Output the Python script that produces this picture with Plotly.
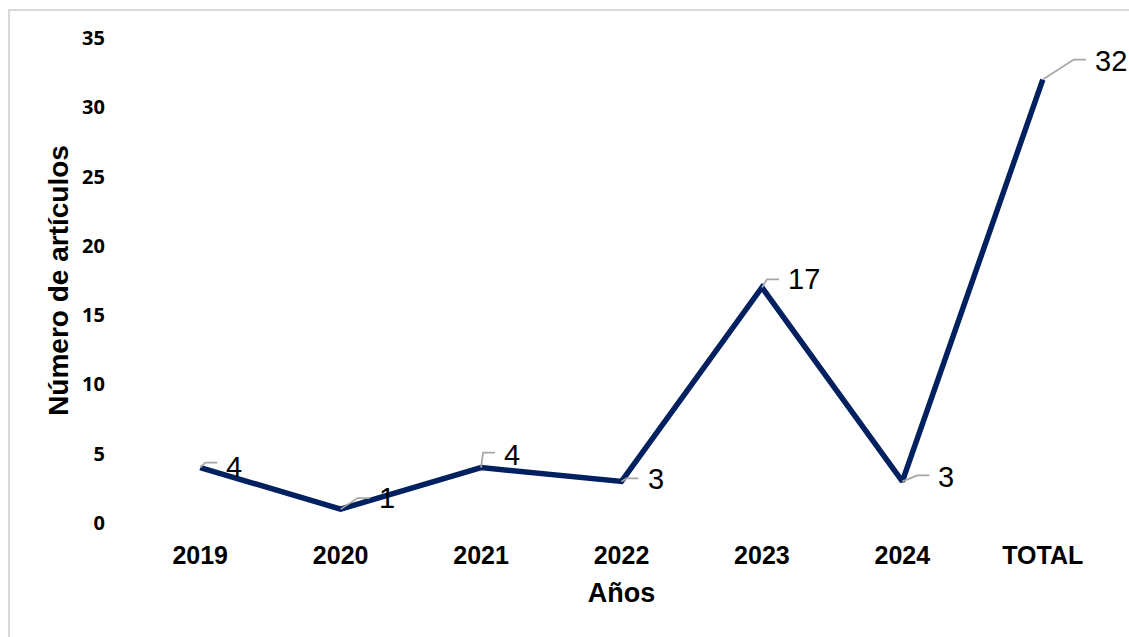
import plotly.graph_objects as go

categories = ["2019", "2020", "2021", "2022", "2023", "2024", "TOTAL"]
values = [4, 1, 4, 3, 17, 3, 32]
y_ticks = [0, 5, 10, 15, 20, 25, 30, 35]

# label leader geometry (pixel offsets relative to each point)
leader_dx = [5, 17, 2, 5, 5, 15, 31]
leader_dy = [5, 11, 15, 3, 8, 6, 20]
label_dy = [1, 11, 13, 2, 8, 4, 19]

LINE_COLOR = "#002060"
LEADER_COLOR = "#A6A6A6"

fig = go.Figure()
fig.add_trace(go.Scatter(
    x=categories, y=values, mode="lines",
    line=dict(color=LINE_COLOR, width=5.5),
    cliponaxis=False, hoverinfo="skip", showlegend=False,
))

shapes = []
annotations = []
for i, (v, dx, dy, ly) in enumerate(zip(values, leader_dx, leader_dy, label_dy)):
    shapes.append(dict(
        type="path", xref="x", yref="y",
        xsizemode="pixel", ysizemode="pixel",
        xanchor=i, yanchor=v,
        path=f"M0,0 L{dx},{dy} L{dx + 12},{dy}",
        line=dict(color=LEADER_COLOR, width=1.75),
    ))
    annotations.append(dict(
        x=i, y=v, xref="x", yref="y", text=str(v), showarrow=False,
        xanchor="left", yanchor="middle", xshift=dx + 19, yshift=ly,
        font=dict(family="Liberation Sans, Arial, sans-serif", size=29, color="#000000"),
    ))

# outer chart border (light grey)
shapes.append(dict(
    type="path", xref="paper", yref="paper",
    path="M-0.1231,-0.4 L-0.1231,1.0577 L1.1,1.0577",
    line=dict(color="#D9D9D9", width=2),
))

fig.update_layout(
    width=1129, height=637,
    margin=dict(l=130, r=16, t=38, b=114),
    paper_bgcolor="white", plot_bgcolor="white",
    shapes=shapes, annotations=annotations,
    showlegend=False,
    xaxis=dict(
        type="category", range=[-0.5, 6.5],
        showgrid=False, zeroline=False, showline=False, ticks="",
        tickfont=dict(family="Liberation Sans, Arial, sans-serif", size=25, color="#000000", weight="bold"),
        ticklabelstandoff=15,
        title=dict(text="<b>Años</b>", standoff=15,
                   font=dict(family="Liberation Sans, Arial, sans-serif", size=27, color="#000000")),
    ),
    yaxis=dict(
        range=[0, 35], tickvals=y_ticks,
        showgrid=False, zeroline=False, showline=False, ticks="",
        tickfont=dict(family="Noto Sans, sans-serif", size=20, color="#000000", weight="bold"),
        ticklabelstandoff=24,
        title=dict(text="<b>Número de artículos</b>", standoff=5,
                   font=dict(family="Liberation Sans, Arial, sans-serif", size=28, color="#000000")),
    ),
)

fig.write_html("out.html")
